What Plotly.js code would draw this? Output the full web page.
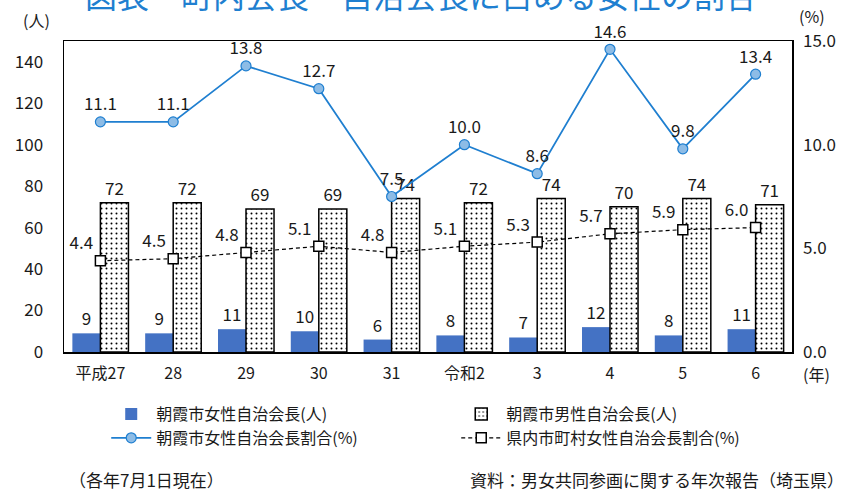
<!DOCTYPE html>
<html><head><meta charset="utf-8">
<script src="https://cdn.plot.ly/plotly-3.0.1.min.js"></script>
<style>html,body{margin:0;padding:0;background:#fff;}#chart{width:847px;height:493px;}</style>
</head><body><div id="chart"></div>
<script>
const years = ['平成27','28','29','30','31','令和2','3','4','5','6'];
const femaleChairs = [9,9,11,10,6,8,7,12,8,11];
const maleChairs = [72,72,69,69,74,72,74,70,74,71];
const asakaFemaleRatio = [11.1,11.1,13.8,12.7,7.5,10.0,8.6,14.6,9.8,13.4];
const prefFemaleRatio = [4.4,4.5,4.8,5.1,4.8,5.1,5.3,5.7,5.9,6.0];

const FONT = '"Noto Sans CJK JP", "Noto Sans", sans-serif';
const TXT = '#1a1a1a';

const traces = [
  {type:'bar', name:'朝霞市女性自治会長(人)', x:years, y:femaleChairs,
   marker:{color:'#4472C4'}, text:femaleChairs.map(String), textposition:'outside',
   textfont:{size:17,color:TXT}, cliponaxis:false, yaxis:'y'},
  {type:'bar', name:'朝霞市男性自治会長(人)', x:years, y:maleChairs,
   marker:{color:'#ffffff', line:{color:'#000',width:1.5},
     pattern:{shape:'.', fgcolor:'#000', bgcolor:'#fff', size:5, solidity:0.12}},
   text:maleChairs.map(String), textposition:'outside',
   textfont:{size:17,color:TXT}, cliponaxis:false, yaxis:'y'},
  {type:'scatter', mode:'lines+markers+text', name:'朝霞市女性自治会長割合(%)', x:years, y:asakaFemaleRatio,
   line:{color:'#1F7FD0',width:1.8}, marker:{size:10,color:'#8DBCE6',line:{color:'#1F7FD0',width:1.2}},
   texttemplate:'%{y:.1f}', textposition:'top center', textfont:{size:17,color:TXT},
   yaxis:'y2', cliponaxis:false},
  {type:'scatter', mode:'lines+markers+text', name:'県内市町村女性自治会長割合(%)', x:years, y:prefFemaleRatio,
   line:{color:'#000',width:1.2,dash:'4px,3px'}, marker:{symbol:'square',size:10,color:'#fff',line:{color:'#000',width:1.5}},
   texttemplate:'%{y:.1f}', textposition:'top left', textfont:{size:17,color:TXT},
   yaxis:'y2', cliponaxis:false}
];

const layout = {
  width:847, height:493,
  margin:{l:64, r:55, t:41, b:141},
  paper_bgcolor:'#fff', plot_bgcolor:'#fff',
  font:{family:FONT, size:16, color:TXT},
  barmode:'group', bargap:0.23, bargroupgap:0,
  showlegend:true,
  legend:{orientation:'h', x:0.058, xanchor:'left', y:-0.145, yanchor:'top',
    entrywidth:295, font:{size:16,color:TXT}, tracegroupgap:0, itemwidth:40,
    bgcolor:'rgba(0,0,0,0)'},
  xaxis:{type:'category', range:[-0.5,9.5], autorange:false, showline:true, mirror:true, linecolor:'#000', linewidth:1.5,
    ticks:'', tickfont:{size:16,color:TXT}, ticklabelstandoff:6, showgrid:false, zeroline:false},
  yaxis:{range:[0,150], tickvals:[0,20,40,60,80,100,120,140], showgrid:false, zeroline:false,
    showline:true, mirror:true, linecolor:'#000', linewidth:1.5, ticks:'',
    tickfont:{size:17,color:TXT}, ticklabelstandoff:16},
  yaxis2:{range:[0,15], tickvals:[0,5,10,15], tickformat:'.1f', overlaying:'y', side:'right',
    showgrid:false, zeroline:false, showline:false, ticks:'', tickfont:{size:17,color:TXT},
    ticklabelstandoff:10},
  annotations:[
    {text:'図表　町内会長・自治会長に占める女性の割合', xref:'paper', yref:'paper', x:0.49, y:1.152,
     xanchor:'center', yanchor:'middle', showarrow:false, font:{size:32,color:'#1F7FD0'}},
    {text:'(人)', xref:'paper', yref:'paper', x:-0.038, y:1.068, xanchor:'center', yanchor:'middle', showarrow:false, font:{size:16}},
    {text:'(%)', xref:'paper', yref:'paper', x:1.028, y:1.08, xanchor:'center', yanchor:'middle', showarrow:false, font:{size:16}},
    {text:'(年)', xref:'paper', yref:'paper', x:1.034, y:-0.071, xanchor:'center', yanchor:'middle', showarrow:false, font:{size:16}},
    {text:'（各年7月1日現在）', xref:'paper', yref:'paper', x:0.004, y:-0.41, xanchor:'left', yanchor:'middle', showarrow:false, font:{size:17}},
    {text:'資料：男女共同参画に関する年次報告（埼玉県）', xref:'paper', yref:'paper', x:1.074, y:-0.41, xanchor:'right', yanchor:'middle', showarrow:false, font:{size:17}}
  ]
};

Plotly.newPlot('chart', traces, layout, {displayModeBar:false, staticPlot:true});
</script>
</body></html>
